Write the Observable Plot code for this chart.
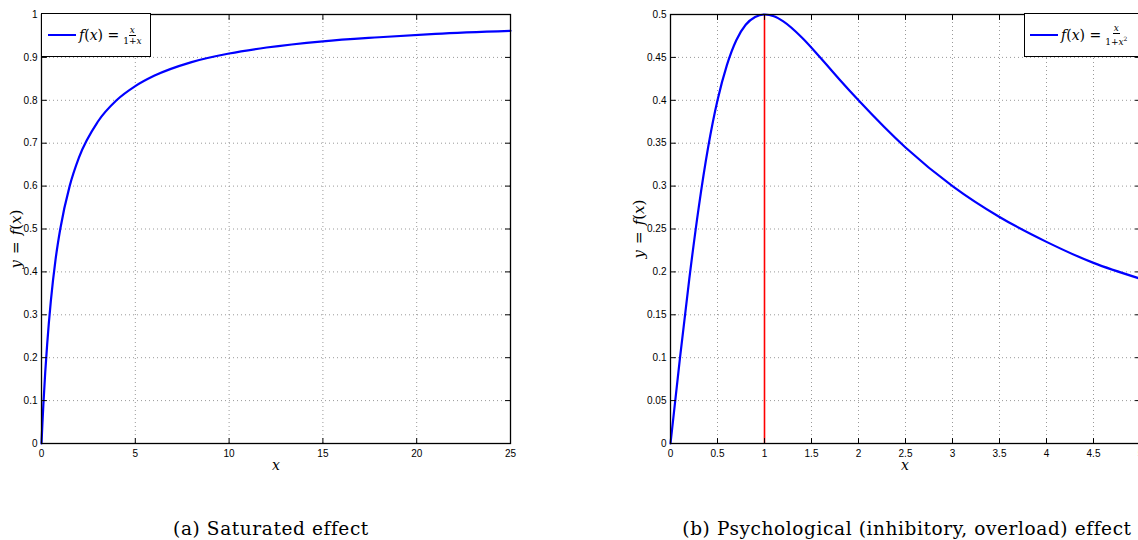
<!DOCTYPE html>
<html><head><meta charset="utf-8">
<script src="https://cdn.jsdelivr.net/npm/d3@7"></script>
<script src="https://cdn.jsdelivr.net/npm/@observablehq/plot@0.6"></script>
<style>
html,body{margin:0;padding:0;background:#fff;}
#root{position:relative;width:1138px;height:540px;overflow:hidden;background:#fff;}
.abs{position:absolute;}
.math{font-family:"DejaVu Serif","Liberation Serif",serif;color:#000;white-space:nowrap;}
.it{font-style:italic;}
.legend{position:absolute;background:#fff;border:1.5px solid #000;box-sizing:border-box;display:flex;align-items:center;}
.legend .sw{display:inline-block;width:28px;height:0;border-top:2.5px solid #0000ff;margin-left:6px;margin-right:3px;}
.frac{display:inline-flex;flex-direction:column;align-items:center;vertical-align:middle;font-size:9px;line-height:10px;margin-left:4px;}
.frac .num{border-bottom:0.8px solid #000;padding:0 1px;}
.caption{position:absolute;font-family:"DejaVu Serif","Liberation Serif",serif;font-size:18.5px;letter-spacing:0.6px;color:#000;white-space:nowrap;transform:translateX(-50%);}
.ylab{position:absolute;transform:rotate(-90deg);transform-origin:center;font-size:15px;}
.eq{margin:0 6px;}
</style>
</head><body><div id="root"></div>
<script>
// Panel (a): saturated effect
const satX = [0, 0.05, 0.1, 0.2, 0.3, 0.5, 0.75, 1, 1.5, 2, 3, 4, 5, 6, 8, 10, 12, 15, 18, 21, 25];
const satY = [0, 0.048, 0.091, 0.167, 0.23, 0.333, 0.429, 0.5, 0.6, 0.667, 0.75, 0.8, 0.833, 0.857, 0.889, 0.909, 0.923, 0.9375, 0.947, 0.955, 0.962];
const satXTicks = [0, 5, 10, 15, 20, 25];
const satYTicks = [0, 0.1, 0.2, 0.3, 0.4, 0.5, 0.6, 0.7, 0.8, 0.9, 1];

// Panel (b): psychological (inhibitory, overload) effect
const psyX = [0, 0.1, 0.2, 0.3, 0.4, 0.5, 0.6, 0.7, 0.8, 0.9, 1, 1.1, 1.2, 1.4, 1.6, 1.8, 2, 2.5, 3, 3.5, 4, 4.5, 5];
const psyY = [0, 0.099, 0.192, 0.275, 0.345, 0.4, 0.441, 0.47, 0.488, 0.497, 0.5, 0.498, 0.492, 0.473, 0.449, 0.424, 0.4, 0.345, 0.3, 0.264, 0.235, 0.2105, 0.192];
const psyXTicks = [0, 0.5, 1, 1.5, 2, 2.5, 3, 3.5, 4, 4.5, 5];
const psyYTicks = [0, 0.05, 0.1, 0.15, 0.2, 0.25, 0.3, 0.35, 0.4, 0.45, 0.5];
const peakX = [1];
const peakY = [0.5];

const tickShape = {draw(ctx, l) { ctx.moveTo(0, 0); ctx.lineTo(0, -l); }};

function panel({xs, ys, xTicks, yTicks, xDomain, yDomain, extra, width, marginLeft, marginRight}) {
  const data = xs.map((x, i) => ({x, y: ys[i]}));
  const tk = {length: 5, anchor: "start", shape: tickShape, stroke: "black", strokeWidth: 1};
  return Plot.plot({
    width, height: 480,
    marginLeft, marginRight, marginTop: 14, marginBottom: 37,
    style: {fontFamily: "'Liberation Sans', Arial, sans-serif", fontSize: "10px", color: "#000", background: "transparent", overflow: "visible"},
    x: {domain: xDomain},
    y: {domain: yDomain},
    marks: [
      Plot.gridX(xTicks, {stroke: "#999", strokeOpacity: 1, strokeDasharray: "1,3"}),
      Plot.gridY(yTicks, {stroke: "#999", strokeOpacity: 1, strokeDasharray: "1,3"}),
      ...extra,
      Plot.line(data, {x: "x", y: "y", stroke: "#0000ff", strokeWidth: 2.2, curve: "monotone-x"}),
      Plot.frame({stroke: "black", strokeWidth: 1.3}),
      Plot.vector(xTicks, {...tk, x: d => d, frameAnchor: "bottom", rotate: 0}),
      Plot.vector(xTicks, {...tk, x: d => d, frameAnchor: "top", rotate: 180}),
      Plot.vector(yTicks, {...tk, y: d => d, frameAnchor: "left", rotate: 90}),
      Plot.vector(yTicks, {...tk, y: d => d, frameAnchor: "right", rotate: -90}),
      Plot.axisX(xTicks, {tickSize: 0, tickPadding: 6, label: null, tickFormat: d => String(d), fill: "#000"}),
      Plot.axisY(yTicks, {tickSize: 0, tickPadding: 4, label: null, tickFormat: d => String(d), fill: "#000"})
    ]
  });
}

const root = document.getElementById("root");

const left = panel({
  xs: satX, ys: satY, xTicks: satXTicks, yTicks: satYTicks,
  xDomain: [0, 25], yDomain: [0, 1], extra: [],
  width: 520, marginLeft: 41, marginRight: 10
});
left.classList.add("abs");
left.style.left = "0px"; left.style.top = "0px";
root.appendChild(left);

const peak = peakX.map((x, i) => ({x, y1: 0, y2: peakY[i]}));
const right = panel({
  xs: psyX, ys: psyY, xTicks: psyXTicks, yTicks: psyYTicks,
  xDomain: [0, 5], yDomain: [0, 0.5],
  extra: [Plot.ruleX(peak, {x: "x", y1: "y1", y2: "y2", stroke: "#ff0000", strokeWidth: 1.6})],
  width: 540, marginLeft: 70, marginRight: 0
});
right.classList.add("abs");
right.style.left = "600px"; right.style.top = "0px";
root.appendChild(right);

function add(html, cls, style) {
  const d = document.createElement("div");
  d.className = cls;
  d.innerHTML = html;
  Object.assign(d.style, style);
  root.appendChild(d);
  return d;
}

// legends
add(`<span class="sw"></span><span class="math" style="font-size:14px"><span class="it">f</span>(<span class="it">x</span>) = </span><span class="math frac"><span class="num it">x</span><span>1+<span class="it">x</span></span></span>`,
  "legend", {left: "41px", top: "13px", width: "110px", height: "44px"});
add(`<span class="sw" style="margin-left:5px"></span><span class="math" style="font-size:14px"><span class="it">f</span>(<span class="it">x</span>) = </span><span class="math frac"><span class="num it">x</span><span>1+<span class="it">x</span><sup style="font-size:6px">2</sup></span></span>`,
  "legend", {left: "1024px", top: "13px", width: "130px", height: "44px"});

// axis titles
add(`<span class="it">x</span>`, "abs math", {left: "272px", top: "457px", fontSize: "14px"});
add(`<span class="it">x</span>`, "abs math", {left: "901px", top: "457px", fontSize: "14px"});
add(`<span class="it">y</span><span class="eq">=</span><span class="it">f</span>(<span class="it">x</span>)`, "ylab math", {left: "-26px", top: "230px", width: "84px", textAlign: "center"});
add(`<span class="it">y</span><span class="eq">=</span><span class="it">f</span>(<span class="it">x</span>)`, "ylab math", {left: "597px", top: "220px", width: "84px", textAlign: "center"});

// captions
add("(a) Saturated effect", "caption", {left: "271px", top: "518px"});
add("(b) Psychological (inhibitory, overload) effect", "caption", {left: "907px", top: "518px"});
</script>
</body></html>
